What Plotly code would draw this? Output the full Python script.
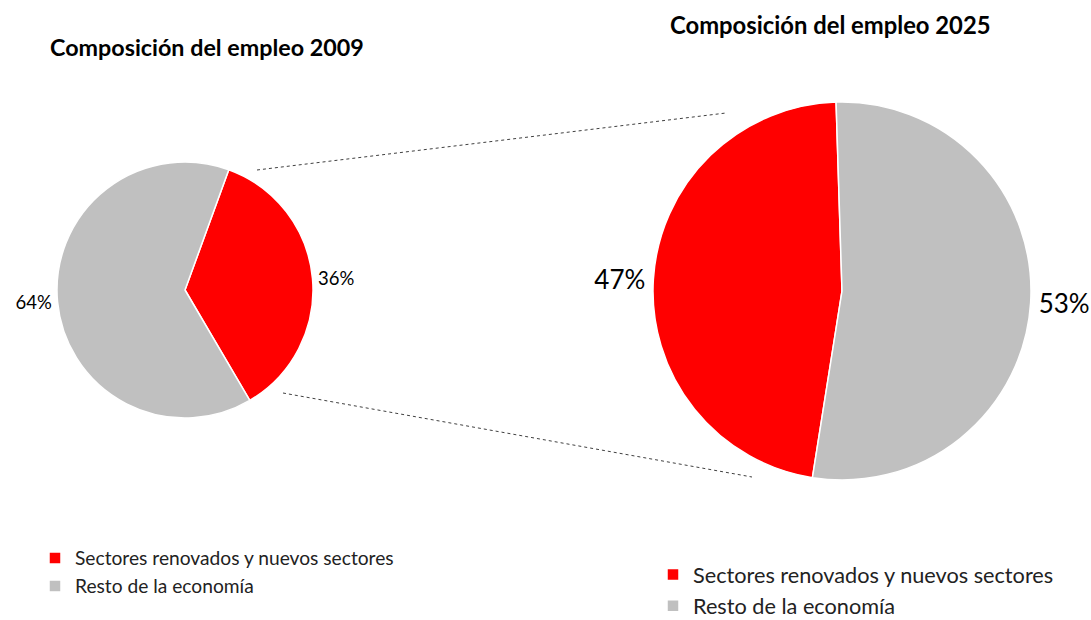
import plotly.graph_objects as go

W, H = 1091, 620

labels = ["Sectores renovados y nuevos sectores", "Resto de la economía"]
values_2009 = [36, 64]
values_2025 = [47, 53]
colors = ["#FF0000", "#C0C0C0"]
titles = ["Composición del empleo 2009", "Composición del empleo 2025"]

FONT = "Lato"


def px_x(x):
    return x / W


def px_y(y):
    return 1 - y / H


def dom(cx, cy, r):
    return dict(x=[px_x(cx - r), px_x(cx + r)], y=[px_y(cy + r), px_y(cy - r)])


fig = go.Figure()

fig.add_trace(go.Pie(
    labels=labels, values=values_2009, sort=False,
    direction="clockwise", rotation=20,
    marker=dict(colors=colors, line=dict(color="white", width=1.5)),
    textinfo="percent", textposition="outside",
    outsidetextfont=dict(family=FONT, size=18.5, color="black"),
    domain=dom(185, 290, 128),
    legend="legend", hoverinfo="label+percent",
))

# second pie keeps its own legend entries (zero-width mark keeps keys distinct)
labels_2025 = [l + "\u200b" for l in labels]
fig.add_trace(go.Pie(
    labels=labels_2025, values=values_2025, sort=False,
    direction="clockwise", rotation=-171,
    marker=dict(colors=colors, line=dict(color="white", width=1.5)),
    textinfo="percent", textposition="outside",
    outsidetextfont=dict(family=FONT, size=26, color="black"),
    domain=dom(842, 291, 189),
    legend="legend2", hoverinfo="label+percent",
))

# connector lines between pies
for (x0, y0, x1, y1) in [(257, 170, 726, 113), (283, 393, 752, 477)]:
    fig.add_shape(type="line", xref="paper", yref="paper",
                  x0=px_x(x0), y0=px_y(y0), x1=px_x(x1), y1=px_y(y1),
                  line=dict(color="#404040", width=1, dash="dot"))

fig.add_annotation(text="<b>" + titles[0] + "</b>", xref="paper", yref="paper",
                   x=px_x(207), y=px_y(47), xanchor="center", yanchor="middle",
                   showarrow=False, font=dict(family=FONT, size=23.3, color="black"))
fig.add_annotation(text="<b>" + titles[1] + "</b>", xref="paper", yref="paper",
                   x=px_x(830), y=px_y(25), xanchor="center", yanchor="middle",
                   showarrow=False, font=dict(family=FONT, size=23.8, color="black"))

fig.update_layout(
    width=W, height=H,
    margin=dict(l=0, r=0, t=0, b=0, autoexpand=False),
    paper_bgcolor="white", plot_bgcolor="white",
    font=dict(family=FONT, color="black"),
    showlegend=True,
    legend=dict(x=px_x(35), y=px_y(539), xanchor="left", yanchor="top",
                font=dict(family=FONT, size=19.2, color="#222"),
                bgcolor="rgba(0,0,0,0)", itemclick=False),
    legend2=dict(x=px_x(653), y=px_y(554), xanchor="left", yanchor="top",
                 font=dict(family=FONT, size=21.7, color="#222"),
                 bgcolor="rgba(0,0,0,0)", itemclick=False),
)

fig.write_html("out.html", config={"displayModeBar": False},
               post_script="document.body.style.margin='0';")
